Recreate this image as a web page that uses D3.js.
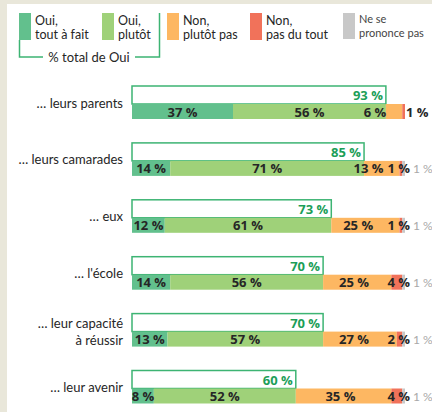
<!DOCTYPE html>
<html><head><meta charset="utf-8">
<script src="https://cdn.jsdelivr.net/npm/d3@7"></script>
<style>
html,body{margin:0;padding:0;background:#e9e7da;}
svg{display:block;font-family:Lato,"Open Sans",sans-serif;}
.num{font-family:"Open Sans",Lato,sans-serif;font-weight:bold;}
</style></head>
<body>
<script>
const categories = ["… leurs parents", "… leurs camarades", "… eux", "… l'école", "… leur capacité\nà réussir", "… leur avenir"];
const seriesNames = ["Oui,\ntout à fait", "Oui,\nplutôt", "Non,\nplutôt pas", "Non,\npas du tout", "Ne se\nprononce pas"];
const ouiToutAFait = [37, 14, 12, 14, 13, 8];
const ouiPlutot = [56, 71, 61, 56, 57, 52];
const nonPlutotPas = [6, 13, 25, 25, 27, 35];
const nonPasDuTout = [1, 1, 1, 4, 2, 4];
const nspp = [0, 1, 1, 1, 1, 1];
const totalOui = [93, 85, 73, 70, 70, 60];
const colors = ["#62c08d", "#9fd179", "#fdb762", "#f1725a", "#c8c8c8"];

const W = 432, H = 412;
const svg = d3.select("body").append("svg").attr("width", W).attr("height", H);
svg.append("rect").attr("x", 7).attr("y", 4).attr("width", W - 7).attr("height", H - 4).attr("fill", "#fff");

const x = d3.scaleLinear().domain([0, 100]).range([132, 405]);
const y = d3.scaleBand().domain(categories).range([86, 86 + 6 * 56.9]).padding(0);
const boxH = 18, barH = 15;
const series = [ouiToutAFait, ouiPlutot, nonPlutotPas, nonPasDuTout, nspp];
const dark = "#262626", green = "#1c9e58", outline = "#3db473";
const pct = v => v + " %";

// legend
const legX = [19, 102, 167, 250, 343];
seriesNames.forEach((s, i) => {
  const g = svg.append("g");
  g.append("rect").attr("x", legX[i]).attr("y", 13).attr("width", 12).attr("height", i === 4 ? 26 : 27).attr("fill", colors[i]);
  const lines = s.split("\n");
  lines.forEach((l, j) => {
    g.append("text").attr("x", legX[i] + 16).attr("y", i === 4 ? 23 + j * 14 : 25 + j * 14)
      .attr("font-size", i === 4 ? 11 : 12.5).attr("fill", i === 4 ? "#444" : dark).text(l);
  });
});
svg.append("path").attr("d", "M19.5,40V57H43 M135,57H159.5V13").attr("fill", "none").attr("stroke", outline).attr("stroke-width", 1.5);
svg.append("text").attr("x", 89).attr("y", 62).attr("text-anchor", "middle").attr("font-size", 13).attr("fill", dark).text("% total de Oui");

categories.forEach((c, r) => {
  const top = y(c);
  const mid = top + 16.5;
  const lines = c.split("\n");
  lines.forEach((l, j) => {
    svg.append("text").attr("x", 123).attr("text-anchor", "end").attr("font-size", 13).attr("fill", dark)
      .attr("y", lines.length === 1 ? mid + 5 : mid - 2.5 + j * 17).text(l);
  });
  // total box
  svg.append("rect").attr("x", x(0)).attr("y", top).attr("width", x(totalOui[r]) - x(0)).attr("height", boxH)
    .attr("fill", "#fff").attr("stroke", outline).attr("stroke-width", 1.5);
  svg.append("text").attr("class", "num").attr("x", x(totalOui[r]) - 3).attr("y", top + 14).attr("text-anchor", "end")
    .attr("font-size", 13).attr("fill", green).text(pct(totalOui[r]));
  // stacked bar
  const by = top + boxH;
  const segs = [];
  let cum = 0;
  series.forEach((s, i) => {
    const v = s[r];
    segs.push([x(cum), x(cum + v), v]);
    svg.append("rect").attr("x", x(cum)).attr("y", by).attr("width", x(cum + v) - x(cum)).attr("height", barH).attr("fill", colors[i]);
    cum += v;
  });
  const ty = by + 12.5;
  segs.forEach(([x0, x1, v], i) => {
    if (i < 2) {
      svg.append("text").attr("class", "num").attr("x", (x0 + x1) / 2).attr("y", ty).attr("text-anchor", "middle")
        .attr("font-size", 13).attr("fill", dark).text(pct(v));
    } else if (i === 2) {
      const t = svg.append("text").attr("class", "num").attr("y", ty).attr("text-anchor", "middle")
        .attr("font-size", 13).attr("fill", dark).text(pct(v));
      const w = t.node().getComputedTextLength();
      let cx = (x0 + x(100) - 20) / 2;
      if (cx + w / 2 > x1 - 16) cx = x1 - 16 - w / 2;
      t.attr("x", cx);
    } else if (i === 3) {
      const t = svg.append("text").attr("class", "num").attr("y", ty).attr("font-size", 13).attr("fill", dark).text(pct(v));
      if (nspp[r] === 0) t.attr("x", x(100) + 1).attr("text-anchor", "start");
      else t.attr("x", x(100) + 5).attr("text-anchor", "end");
    } else if (v > 0) {
      svg.append("text").attr("x", x(100) + 8).attr("y", ty).attr("font-size", 12).attr("fill", "#a8a8a8").text(pct(v));
    }
  });
});
</script>
</body></html>
